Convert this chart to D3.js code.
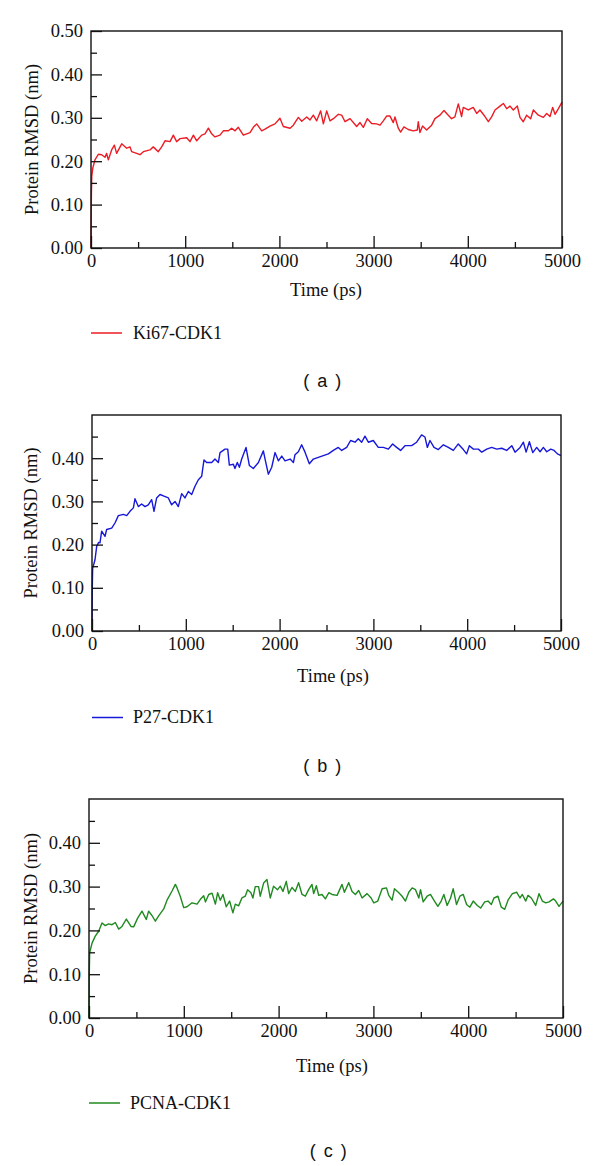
<!DOCTYPE html>
<html>
<head>
<meta charset="utf-8">
<script src="https://cdn.jsdelivr.net/npm/d3@7"></script>
<style>
  html, body { margin: 0; padding: 0; background: #fff; }
  svg { display: block; }
</style>
</head>
<body>
<div id="chart"></div>
<script>
// ---------------- DATA ----------------
const xTicksMajor = [0, 1000, 2000, 3000, 4000, 5000];
const xTicksMinor = [500, 1500, 2500, 3500, 4500];
const yTicksA = [0, 0.1, 0.2, 0.3, 0.4, 0.5];
const yTicksBC = [0, 0.1, 0.2, 0.3, 0.4];
const yTicksMinor = [0.05, 0.15, 0.25, 0.35, 0.45];
const xLabel = "Time (ps)";
const yLabel = "Protein RMSD (nm)";
const seriesNames = ["Ki67-CDK1", "P27-CDK1", "PCNA-CDK1"];
const panelLetters = ["( a )", "( b )", "( c )"];

const kiTime = [0,4,8,20,42,78,113,149,166,184,219,248,272,326,379,414,432,485,520,556,626,661,714,750,786,839,874,909,945,1016,1051,1087,1122,1175,1210,1246,1281,1316,1369,1405,1458,1493,1529,1564,1617,1652,1688,1723,1759,1812,1847,1900,1953,2006,2042,2113,2148,2201,2237,2290,2325,2360,2396,2438,2467,2502,2537,2573,2626,2661,2697,2750,2820,2856,2891,2933,2979,3032,3068,3103,3138,3174,3209,3227,3262,3287,3322,3368,3421,3464,3474,3492,3520,3563,3616,3651,3704,3747,3793,3828,3863,3899,3934,3952,4005,4058,4094,4129,4172,4218,4253,4289,4342,4377,4413,4448,4483,4526,4554,4589,4625,4667,4696,4749,4802,4837,4873,4901,4926,4962,5000];
const kiRmsd = [0,0.12,0.165,0.185,0.203,0.216,0.215,0.209,0.218,0.203,0.226,0.237,0.218,0.24,0.23,0.233,0.222,0.218,0.215,0.222,0.226,0.233,0.222,0.233,0.247,0.245,0.26,0.245,0.252,0.254,0.245,0.26,0.247,0.26,0.263,0.276,0.263,0.256,0.26,0.27,0.27,0.276,0.27,0.278,0.26,0.263,0.266,0.278,0.286,0.27,0.274,0.281,0.286,0.299,0.28,0.276,0.283,0.301,0.292,0.302,0.295,0.306,0.293,0.316,0.286,0.316,0.293,0.298,0.308,0.306,0.291,0.298,0.28,0.289,0.278,0.298,0.287,0.286,0.283,0.293,0.304,0.304,0.289,0.302,0.276,0.267,0.279,0.273,0.27,0.272,0.291,0.266,0.281,0.272,0.283,0.298,0.306,0.317,0.306,0.298,0.302,0.332,0.303,0.324,0.318,0.324,0.31,0.318,0.306,0.291,0.302,0.318,0.327,0.333,0.321,0.327,0.318,0.327,0.301,0.291,0.306,0.298,0.318,0.306,0.301,0.31,0.303,0.324,0.308,0.321,0.336];

const p27Time = [0,3,7,32,50,71,85,103,139,156,210,245,281,334,370,405,441,458,494,529,565,600,636,661,689,725,768,814,849,885,920,956,991,1027,1063,1098,1134,1169,1194,1223,1276,1311,1347,1365,1418,1447,1464,1507,1524,1549,1571,1596,1642,1678,1720,1774,1827,1845,1880,1916,1951,1987,2023,2058,2112,2147,2164,2200,2235,2271,2317,2360,2413,2466,2520,2573,2626,2662,2715,2757,2804,2839,2875,2910,2946,2999,3052,3106,3159,3205,3248,3290,3337,3408,3461,3514,3550,3575,3603,3646,3692,3746,3799,3852,3905,3959,3994,4023,4066,4119,4155,4208,4261,4315,4368,4421,4475,4510,4564,4599,4628,4663,4699,4741,4777,4812,4848,4891,4926,4962,5000];
const p27Rmsd = [0,0.1,0.145,0.165,0.196,0.205,0.204,0.231,0.219,0.235,0.238,0.25,0.267,0.27,0.267,0.277,0.285,0.306,0.288,0.294,0.288,0.292,0.304,0.277,0.308,0.316,0.312,0.308,0.292,0.3,0.288,0.318,0.308,0.323,0.316,0.335,0.35,0.358,0.396,0.39,0.39,0.398,0.39,0.413,0.421,0.421,0.384,0.386,0.376,0.39,0.379,0.398,0.425,0.383,0.376,0.39,0.417,0.398,0.363,0.379,0.413,0.394,0.405,0.394,0.398,0.39,0.408,0.415,0.431,0.414,0.387,0.398,0.402,0.406,0.41,0.418,0.425,0.418,0.425,0.441,0.437,0.445,0.437,0.451,0.437,0.441,0.425,0.425,0.421,0.433,0.425,0.418,0.429,0.429,0.437,0.454,0.449,0.425,0.441,0.425,0.42,0.431,0.425,0.418,0.433,0.42,0.41,0.429,0.421,0.421,0.414,0.421,0.425,0.421,0.423,0.418,0.429,0.414,0.425,0.437,0.414,0.438,0.413,0.425,0.415,0.425,0.415,0.421,0.418,0.41,0.406];

const pcnaTime = [0,3,7,32,66,102,137,172,207,243,278,313,348,394,443,471,513,559,604,629,664,700,735,788,823,876,911,929,964,999,1034,1087,1140,1175,1210,1228,1263,1298,1333,1357,1385,1413,1448,1483,1518,1543,1578,1613,1648,1673,1708,1729,1754,1789,1806,1842,1877,1912,1947,1989,2018,2046,2081,2106,2141,2176,2211,2247,2282,2317,2352,2370,2398,2423,2458,2493,2529,2564,2617,2669,2694,2740,2775,2810,2845,2881,2933,2976,3004,3046,3092,3138,3162,3197,3222,3268,3303,3338,3373,3409,3444,3479,3497,3525,3567,3602,3644,3680,3715,3743,3778,3814,3842,3877,3912,3948,3983,4018,4053,4096,4131,4174,4209,4244,4272,4314,4349,4385,4420,4466,4512,4547,4571,4607,4631,4666,4712,4747,4782,4818,4853,4899,4923,4958,5000];
const pcnaRmsd = [0,0.1,0.149,0.171,0.187,0.198,0.217,0.211,0.215,0.213,0.218,0.203,0.209,0.226,0.209,0.208,0.228,0.244,0.225,0.244,0.234,0.221,0.233,0.249,0.269,0.29,0.305,0.297,0.277,0.252,0.254,0.263,0.26,0.271,0.279,0.265,0.282,0.285,0.26,0.286,0.269,0.282,0.254,0.267,0.24,0.26,0.256,0.274,0.278,0.293,0.286,0.274,0.3,0.3,0.278,0.308,0.316,0.274,0.301,0.293,0.301,0.289,0.312,0.284,0.298,0.289,0.309,0.282,0.278,0.293,0.305,0.284,0.302,0.28,0.282,0.272,0.286,0.282,0.28,0.305,0.287,0.309,0.289,0.282,0.291,0.274,0.284,0.274,0.263,0.267,0.295,0.297,0.28,0.269,0.295,0.286,0.278,0.267,0.287,0.297,0.293,0.274,0.293,0.265,0.278,0.282,0.267,0.255,0.267,0.282,0.257,0.274,0.295,0.259,0.278,0.282,0.259,0.253,0.267,0.257,0.251,0.265,0.267,0.259,0.274,0.278,0.253,0.248,0.269,0.284,0.287,0.274,0.282,0.267,0.28,0.274,0.257,0.284,0.267,0.263,0.265,0.272,0.267,0.255,0.267];

// ---------------- LAYOUT ----------------
const W = 600, H = 1166;
const serif = "'Liberation Serif', 'Times New Roman', serif";
const sans = "'Liberation Sans', Arial, sans-serif";

const panels = [
  { time: kiTime, rmsd: kiRmsd, color: "#ec1c24", name: seriesNames[0], letter: panelLetters[0], yTicks: yTicksA,
    box: { l: 91, r: 562, t: 31, b: 248 }, xLabY: 296, xLabX: 326, yLabX: 32,
    legY: 333, legX0: 91, legX1: 122, legTextX: 133, legTextY: 338.5, letY: 387, letX: 323 },
  { time: p27Time, rmsd: p27Rmsd, color: "#1717d9", name: seriesNames[1], letter: panelLetters[1], yTicks: yTicksBC,
    box: { l: 92, r: 561, t: 415, b: 631 }, xLabY: 682, xLabX: 333, yLabX: 31,
    legY: 717.5, legX0: 92, legX1: 123, legTextX: 133, legTextY: 722.5, letY: 772, letX: 323 },
  { time: pcnaTime, rmsd: pcnaRmsd, color: "#1f8a1f", name: seriesNames[2], letter: panelLetters[2], yTicks: yTicksBC,
    box: { l: 89, r: 563, t: 799, b: 1018 }, xLabY: 1072, xLabX: 332, yLabX: 31,
    legY: 1103, legX0: 89, legX1: 120, legTextX: 130, legTextY: 1108.5, letY: 1157, letX: 329 }
];

const svg = d3.select("#chart").append("svg")
  .attr("width", W).attr("height", H)
  .style("background", "#fff");

panels.forEach(p => {
  const x = d3.scaleLinear().domain([0, 5000]).range([p.box.l, p.box.r]);
  const y = d3.scaleLinear().domain([0, 0.5]).range([p.box.b, p.box.t]);
  const g = svg.append("g");

  // data line
  const pts = p.time.map((t, i) => [t, p.rmsd[i]]);
  g.append("path")
    .datum(pts)
    .attr("fill", "none")
    .attr("stroke", p.color)
    .attr("stroke-width", 1.4)
    .attr("stroke-linejoin", "round")
    .attr("d", d3.line().x(d => x(d[0])).y(d => y(d[1])));

  // frame
  g.append("rect")
    .attr("x", p.box.l).attr("y", p.box.t)
    .attr("width", p.box.r - p.box.l).attr("height", p.box.b - p.box.t)
    .attr("fill", "none").attr("stroke", "#111").attr("stroke-width", 1.4);

  // x axis major
  const xAx = g.append("g").attr("transform", `translate(0,${p.box.b})`)
    .call(d3.axisBottom(x).tickValues(xTicksMajor).tickSize(-12).tickPadding(6).tickFormat(d3.format("d")));
  // x axis minor
  const xAxm = g.append("g").attr("transform", `translate(0,${p.box.b})`)
    .call(d3.axisBottom(x).tickValues(xTicksMinor).tickSize(-6).tickFormat(""));
  // y axis major
  const yAx = g.append("g").attr("transform", `translate(${p.box.l},0)`)
    .call(d3.axisLeft(y).tickValues(p.yTicks).tickSize(-11).tickPadding(8).tickFormat(d3.format(".2f")));
  const yAxm = g.append("g").attr("transform", `translate(${p.box.l},0)`)
    .call(d3.axisLeft(y).tickValues(yTicksMinor).tickSize(-6).tickFormat(""));

  [xAx, xAxm, yAx, yAxm].forEach(a => {
    a.select(".domain").remove();
    a.selectAll(".tick line").attr("stroke", "#111").attr("stroke-width", 1.3);
    a.selectAll("text").attr("font-family", serif).attr("font-size", 18.5).attr("fill", "#111");
  });

  // axis titles
  g.append("text")
    .attr("x", p.xLabX).attr("y", p.xLabY)
    .attr("text-anchor", "middle")
    .attr("font-family", serif).attr("font-size", 18.5).attr("fill", "#111")
    .text(xLabel);
  g.append("text")
    .attr("transform", `translate(${p.yLabX},${(p.box.t + p.box.b) / 2}) rotate(-90)`)
    .attr("text-anchor", "middle").attr("dy", "0.35em")
    .attr("font-family", serif).attr("font-size", 18.5).attr("fill", "#111")
    .text(yLabel);

  // legend
  g.append("line")
    .attr("x1", p.legX0).attr("x2", p.legX1).attr("y1", p.legY).attr("y2", p.legY)
    .attr("stroke", p.color).attr("stroke-width", 1.5);
  g.append("text")
    .attr("x", p.legTextX).attr("y", p.legTextY)
    .attr("font-family", serif).attr("font-size", 18).attr("fill", "#111")
    .text(p.name);

  // panel letter
  g.append("text")
    .attr("x", p.letX).attr("y", p.letY)
    .attr("text-anchor", "middle")
    .attr("font-family", sans).attr("font-size", 18).attr("fill", "#111")
    .attr("letter-spacing", 1.5)
    .style("white-space", "pre")
    .text(p.letter);
});
</script>
</body>
</html>
